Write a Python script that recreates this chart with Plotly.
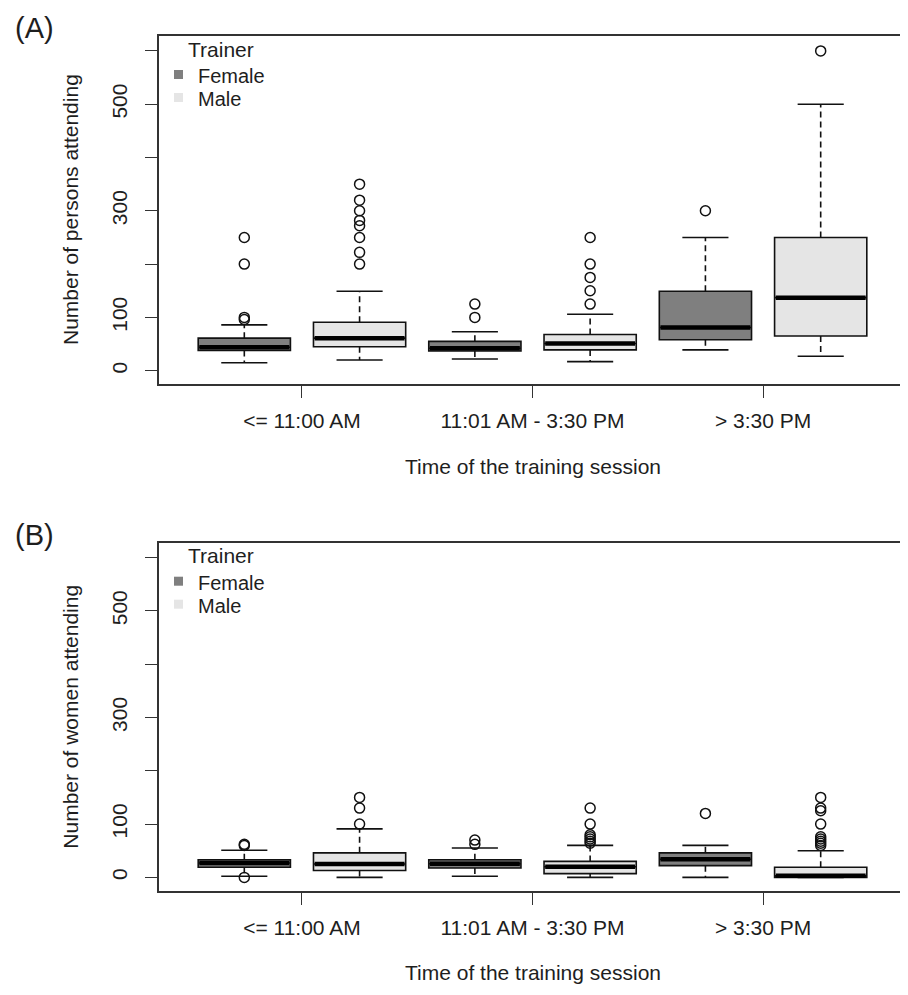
import plotly.graph_objects as go

# ---------------- data ----------------
time_slots = ["<= 11:00 AM", "11:01 AM - 3:30 PM", "> 3:30 PM"]
trainers = ["Female", "Male"]
y_tick_values = [0, 100, 200, 300, 400, 500, 600]
y_tick_labels = ["0", "100", "", "300", "", "500", ""]

# Panel A: number of persons attending
persons_female_low = [15, 22, 39]
persons_female_q1 = [38, 37, 58]
persons_female_median = [44, 42, 81]
persons_female_q3 = [61, 55, 149]
persons_female_high = [86, 73, 250]
persons_female_outliers = [[96, 100, 200, 250], [100, 125], [300]]

persons_male_low = [20, 17, 27]
persons_male_q1 = [45, 39, 65]
persons_male_median = [61, 51, 137]
persons_male_q3 = [91, 68, 250]
persons_male_high = [149, 106, 500]
persons_male_outliers = [[200, 222, 250, 272, 282, 300, 320, 350],
                         [125, 150, 175, 200, 250], [600]]

# Panel B: number of women attending
women_female_low = [2, 2, 0]
women_female_q1 = [19, 17.5, 22]
women_female_median = [27, 25.5, 34]
women_female_q3 = [33, 33, 46]
women_female_high = [51, 55, 60]
women_female_outliers = [[0, 60, 62], [62, 70], [120]]

women_male_low = [0, 0, 0]
women_male_q1 = [13, 7, 0]
women_male_median = [25, 20, 3]
women_male_q3 = [46, 30, 19]
women_male_high = [91, 60, 50]
women_male_outliers = [[100, 130, 150], [64, 68, 72, 76, 80, 100, 130],
                       [60, 64, 68, 72, 76, 100, 125, 130, 150]]

panel_titles = ["(A)", "(B)"]
y_titles = ["Number of persons attending", "Number of women attending"]
x_title = "Time of the training session"
legend_title = "Trainer"

# ---------------- style / layout ----------------
OFF = 8                      # browser body margin
W, H = 908 - OFF, 995 - 2 * OFF
ML, MR, MT, MB = 159 - OFF, 2, 36 - OFF, 96
PW, PH = W - ML - MR, H - MT - MB
FONT = "Liberation Sans, Arial, sans-serif"
TXT = "#1e1e1e"
FILL = {"Female": "#7f7f7f", "Male": "#e5e5e5"}
BOXW = 0.8
panel_tops = [36, 542.7]
panel_bottoms = [384, 890.7]


def px(x):
    return (x - OFF - ML) / PW


def py(y):
    return (H - MB - (y - OFF)) / PH


panels = [
    {
        "Female": (persons_female_low, persons_female_q1, persons_female_median,
                   persons_female_q3, persons_female_high, persons_female_outliers),
        "Male": (persons_male_low, persons_male_q1, persons_male_median,
                 persons_male_q3, persons_male_high, persons_male_outliers),
    },
    {
        "Female": (women_female_low, women_female_q1, women_female_median,
                   women_female_q3, women_female_high, women_female_outliers),
        "Male": (women_male_low, women_male_q1, women_male_median,
                 women_male_q3, women_male_high, women_male_outliers),
    },
]

fig = go.Figure()

for p, stats in enumerate(panels):
    xa = "x" if p == 0 else "x2"
    ya = "y" if p == 0 else "y2"
    for t, trainer in enumerate(trainers):
        low, q1, med, q3, high, outs = stats[trainer]
        pos = [2 * g + t + 1 for g in range(len(time_slots))]
        fig.add_trace(go.Box(
            x=pos, q1=q1, median=med, q3=q3, lowerfence=q1, upperfence=q3,
            width=BOXW, whiskerwidth=0, fillcolor=FILL[trainer],
            line=dict(color="#111111", width=1.6), boxpoints=False,
            xaxis=xa, yaxis=ya, showlegend=False, hoverinfo="skip"))
        wx, wy = [], []
        cx, cy = [], []
        mx, my = [], []
        for i, c in enumerate(pos):
            wx += [c, c, None, c, c, None]
            wy += [q3[i], high[i], None, q1[i], low[i], None]
            cx += [c - BOXW / 4, c + BOXW / 4, None, c - BOXW / 4, c + BOXW / 4, None]
            cy += [high[i], high[i], None, low[i], low[i], None]
            mx += [c - BOXW / 2 + 0.01, c + BOXW / 2 - 0.01, None]
            my += [med[i], med[i], None]
        fig.add_trace(go.Scatter(x=wx, y=wy, mode="lines",
                                 line=dict(color="#111111", width=1.6, dash="6px,4px"),
                                 xaxis=xa, yaxis=ya, showlegend=False, hoverinfo="skip"))
        fig.add_trace(go.Scatter(x=cx, y=cy, mode="lines",
                                 line=dict(color="#111111", width=1.6),
                                 xaxis=xa, yaxis=ya, showlegend=False, hoverinfo="skip"))
        fig.add_trace(go.Scatter(x=mx, y=my, mode="lines",
                                 line=dict(color="#000000", width=4.5),
                                 xaxis=xa, yaxis=ya, showlegend=False, hoverinfo="skip"))
        ox, oy = [], []
        for i, c in enumerate(pos):
            ox += [c] * len(outs[i])
            oy += outs[i]
        fig.add_trace(go.Scatter(x=ox, y=oy, mode="markers",
                                 marker=dict(symbol="circle-open", size=10,
                                             color="#111111", line=dict(width=1.5)),
                                 xaxis=xa, yaxis=ya, showlegend=False, hoverinfo="skip"))

axis_common = dict(showline=True, mirror=True, linecolor="#333333", linewidth=1.6,
                   ticks="outside", ticklen=12, tickwidth=1.4, tickcolor="#333333",
                   showgrid=False, zeroline=False,
                   tickfont=dict(family=FONT, size=21, color=TXT))

xcfg = dict(axis_common, range=[0.26, 6.74], tickvals=[1.5, 3.5, 5.5],
            ticktext=time_slots, ticklabelstandoff=5)
ycfg = dict(axis_common, range=[-25, 628], tickvals=y_tick_values,
            ticktext=y_tick_labels, tickangle=-90, ticklabelstandoff=10)

fig.update_layout(
    width=W, height=H,
    margin=dict(l=ML, r=MR, t=MT, b=MB, autoexpand=False),
    paper_bgcolor="white", plot_bgcolor="white",
    xaxis=dict(xcfg, domain=[0, 1], anchor="y"),
    yaxis=dict(ycfg, domain=[py(panel_bottoms[0]), py(panel_tops[0])], anchor="x"),
    xaxis2=dict(xcfg, domain=[0, 1], anchor="y2"),
    yaxis2=dict(ycfg, domain=[py(panel_bottoms[1]), py(panel_tops[1])], anchor="x2"),
    showlegend=False,
)

ann = []
shapes = []
for p in range(2):
    top, bot = panel_tops[p], panel_bottoms[p]
    ann.append(dict(text=panel_titles[p], x=px(35), y=py(top - 8), xref="paper", yref="paper",
                    xanchor="center", yanchor="middle", showarrow=False,
                    font=dict(family=FONT, size=29, color=TXT)))
    ann.append(dict(text=y_titles[p], x=px(71), y=py((top + bot) / 2), xref="paper",
                    yref="paper", textangle=-90, xanchor="center", yanchor="middle",
                    showarrow=False, font=dict(family=FONT, size=21, color=TXT)))
    ann.append(dict(text=x_title, x=px((159 + 906) / 2), y=py(bot + 82), xref="paper",
                    yref="paper", xanchor="center", yanchor="middle", showarrow=False,
                    font=dict(family=FONT, size=21, color=TXT)))
    ann.append(dict(text=legend_title, x=px(186), y=py(top + 13), xref="paper",
                    yref="paper", xanchor="left", yanchor="middle", showarrow=False,
                    font=dict(family=FONT, size=21, color=TXT)))
    for t, trainer in enumerate(trainers):
        cy = top + 40 + 23 * t
        ann.append(dict(text=trainer, x=px(197), y=py(cy), xref="paper", yref="paper",
                        xanchor="left", yanchor="middle", showarrow=False,
                        borderpad=0, font=dict(family=FONT, size=20, color=TXT)))
        shapes.append(dict(type="rect", xref="paper", yref="paper",
                           x0=px(174), x1=px(183), y0=py(cy - 6), y1=py(cy + 3),
                           fillcolor=FILL[trainer], line=dict(width=0)))

fig.update_layout(annotations=ann, shapes=shapes)
fig.write_html("out.html")
